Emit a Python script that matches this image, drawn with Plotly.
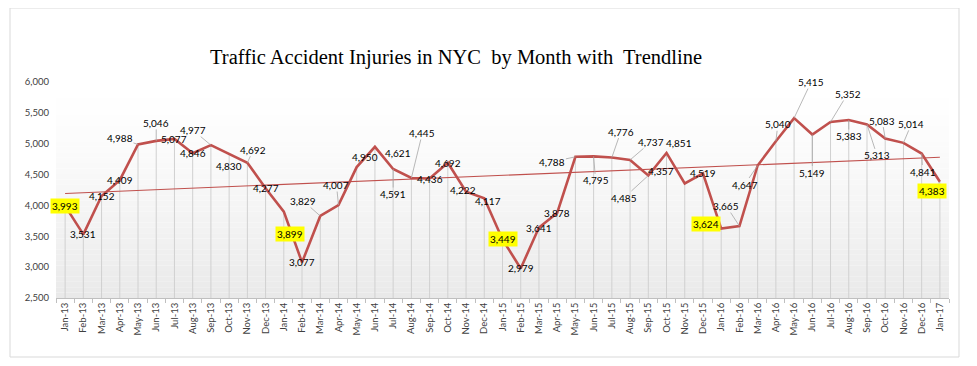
import numpy as np
import plotly.graph_objects as go

months = ["Jan-13", "Feb-13", "Mar-13", "Apr-13", "May-13", "Jun-13", "Jul-13", "Aug-13", "Sep-13", "Oct-13", "Nov-13", "Dec-13",
          "Jan-14", "Feb-14", "Mar-14", "Apr-14", "May-14", "Jun-14", "Jul-14", "Aug-14", "Sep-14", "Oct-14", "Nov-14", "Dec-14",
          "Jan-15", "Feb-15", "Mar-15", "Apr-15", "May-15", "Jun-15", "Jul-15", "Aug-15", "Sep-15", "Oct-15", "Nov-15", "Dec-15",
          "Jan-16", "Feb-16", "Mar-16", "Apr-16", "May-16", "Jun-16", "Jul-16", "Aug-16", "Sep-16", "Oct-16", "Nov-16", "Dec-16",
          "Jan-17"]

injuries = [3993, 3531, 4152, 4409, 4988, 5046, 5077, 4846, 4977, 4830, 4692, 4277,
            3899, 3077, 3829, 4007, 4621, 4950, 4591, 4445, 4436, 4692, 4222, 4117,
            3449, 2979, 3641, 3878, 4788, 4795, 4776, 4737, 4485, 4851, 4357, 4519,
            3624, 3665, 4647, 5040, 5415, 5149, 5352, 5383, 5313, 5083, 5014, 4841,
            4383]

y_ticks = [2500, 3000, 3500, 4000, 4500, 5000, 5500, 6000]

# label offsets (pixels) from each point, as placed in the reference
label_dx = [0, 0, 0, 0, -18, 0, 0, 0, -18, 0, 6, 0,
            6, 0, -17, -2, 41, -10, 0, 11, 0, 0, -3, 4,
            0, 0, 0, 0, -23, 2, 9, 21, -24, 12, -24, 0,
            -15, -13, -13, 2, 17, 0, 17, 0, 10, -3, 8, 1,
            -8]
label_dy = [0, 0, 0, 0, -6, -18, 0, 0, -15, 12, -13, 0,
            22, 0, -15, -20, -14, 10, 25, -45, 0, 0, -2, 3,
            0, 0, 0, 0, 5, 24, -26, -18, 22, -10, -12, 0,
            -5, -20, 19, -17, -36, 38, -28, 16, 31, -18, -19, 18,
            9]
no_leader = {"May-14", "Jun-14", "Jan-14", "Oct-15", "Nov-15"}

LINE_COLOR = "#C0504D"
Y_MIN, Y_MAX = 2500, 6000

# page body has an 8px margin: compensate so the plot lands where the reference has it
OFF = 8
L, T = 56 - OFF, 82 - OFF
PW, PH = 893, 216
R = 977 - L - PW
B = 366 - T - PH

idx = np.arange(len(injuries))
slope, intercept = np.polyfit(idx, injuries, 1)
trend = slope * idx + intercept

fig = go.Figure()

# drop lines
dx, dy = [], []
for m, v in zip(months, injuries):
    dx += [m, m, None]
    dy += [v, Y_MIN, None]
fig.add_trace(go.Scatter(x=dx, y=dy, mode="lines", line=dict(color="#d0d0d0", width=1),
                         hoverinfo="skip", showlegend=False))

fig.add_trace(go.Scatter(x=[months[0], months[-1]], y=[trend[0], trend[-1]], mode="lines",
                         line=dict(color=LINE_COLOR, width=1.1), showlegend=False))

fig.add_trace(go.Scatter(x=months, y=injuries, mode="lines",
                         line=dict(color=LINE_COLOR, width=2.6), showlegend=False))

annotations = []
for i, (m, v) in enumerate(zip(months, injuries)):
    ox, oy = label_dx[i], label_dy[i]
    lead = (ox * ox + oy * oy) ** 0.5 > 12 and m not in no_leader
    is_jan = m.startswith("Jan")
    annotations.append(dict(
        x=m, y=v, xref="x", yref="y", text=f"{v:,}",
        showarrow=True, ax=ox, ay=oy, axref="pixel", ayref="pixel",
        arrowhead=0, arrowwidth=0.8, standoff=0, startstandoff=0,
        arrowcolor="#a6a6a6" if lead else "rgba(0,0,0,0)",
        font=dict(family="Lato, sans-serif", size=10, color="#000000"),
        bgcolor="#FFFF00" if is_jan else None, borderpad=1 if is_jan else 0,
    ))

# gradient plot background
shapes = []
n = 40
for k in range(n):
    t = (k + 0.5) / n
    g = int(round(255 - 22 * (t ** 1.4)))
    shapes.append(dict(type="rect", xref="x domain", yref="y domain",
                       x0=0, x1=1, y0=1 - (k + 1) / n, y1=1 - k / n,
                       fillcolor=f"rgb({g},{g},{g})", line=dict(width=0), layer="below"))

# outer chart border (reference pixels 10..959 x 8..357)
shapes.append(dict(type="rect", xref="paper", yref="paper",
                   x0=(10 - 56) / PW, x1=(959 - 56) / PW,
                   y0=(298 - 357) / PH, y1=(298 - 8) / PH,
                   line=dict(color="#d9d9d9", width=1), fillcolor="rgba(0,0,0,0)", layer="below"))

fig.update_layout(
    width=977, height=366,
    margin=dict(l=L, r=R, t=T, b=B),
    paper_bgcolor="white", plot_bgcolor="white",
    title=dict(text="Traffic Accident Injuries in NYC\u00a0 by Month with\u00a0 Trendline",
               x=(456 - OFF) / 977, xanchor="center", xref="container",
               y=1 - (57 - OFF) / 366, yanchor="middle", yref="container",
               font=dict(family="Liberation Serif, serif", size=20.5, color="#000000")),
    shapes=shapes,
    annotations=annotations,
    showlegend=False,
)

fig.update_xaxes(type="category", categoryorder="array", categoryarray=months,
                 range=[-0.5, len(months) - 0.5],
                 showgrid=False, tickangle=-90, tickson="boundaries",
                 ticks="outside", ticklen=4, tickcolor="#bfbfbf",
                 showline=True, linecolor="#bfbfbf", linewidth=1,
                 tickfont=dict(family="Lato, sans-serif", size=9.5, color="#404040"),
                 zeroline=False, automargin=False)

fig.update_yaxes(range=[Y_MIN, Y_MAX], tickvals=y_ticks, tickformat=",",
                 showgrid=False, zeroline=False, showline=False,
                 tickfont=dict(family="Lato, sans-serif", size=9.5, color="#404040"),
                 ticks="", ticklabelstandoff=6, automargin=False)

fig.write_html("out.html")
